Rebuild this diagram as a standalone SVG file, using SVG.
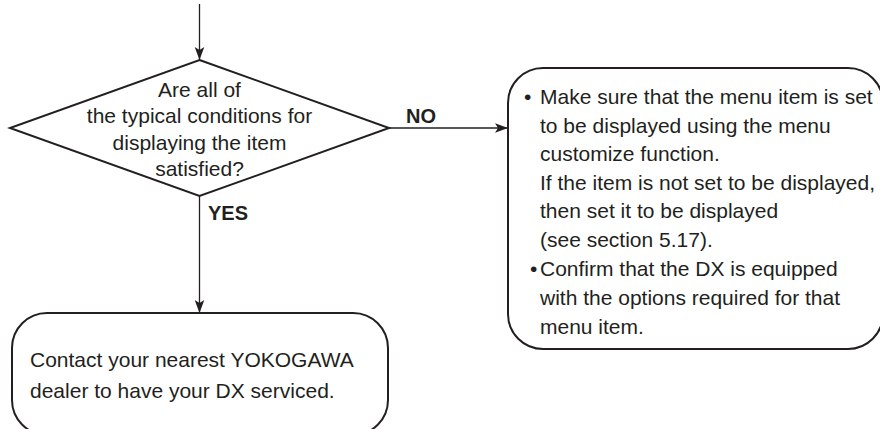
<svg xmlns="http://www.w3.org/2000/svg" width="880" height="429" viewBox="0 0 880 429">
<style>
text{font-family:"Liberation Sans",Arial,sans-serif;font-size:21px;fill:#231f20}
.b{font-weight:bold;font-size:20px}
.shape{fill:#fff;stroke:#231f20;stroke-width:2}
.conn{fill:none;stroke:#231f20;stroke-width:1.3}
</style>
<defs>
<marker id="ah" viewBox="-14 -6 16 12" refX="0" refY="0" markerWidth="16" markerHeight="12" markerUnits="userSpaceOnUse" orient="auto">
<path d="M0,0 L-13,-4.8 L-10,0 L-13,4.8 Z" fill="#231f20"/>
</marker>
</defs>
<rect width="880" height="429" fill="#fff"/>
<g id="connectors">
<line class="conn" x1="199.5" y1="4" x2="199.5" y2="60" marker-end="url(#ah)"/>
<line class="conn" x1="389" y1="128" x2="508" y2="128" marker-end="url(#ah)"/>
<line class="conn" x1="199.5" y1="196" x2="199.5" y2="313" marker-end="url(#ah)"/>
<text class="b" x="406" y="123">NO</text>
<text class="b" x="208" y="220">YES</text>
</g>
<g id="decision">
<polygon class="shape" points="199.5,60 389,128 199.5,196 10,128"/>
<text text-anchor="middle" x="199.5" y="97">Are all of</text>
<text text-anchor="middle" x="199.5" y="123">the typical conditions for</text>
<text text-anchor="middle" x="199.5" y="150">displaying the item</text>
<text text-anchor="middle" x="199.5" y="176">satisfied?</text>
</g>
<g id="check">
<rect class="shape" x="508" y="68" width="375" height="281" rx="35" ry="35"/>
<text x="524" y="104">•</text>
<text x="540" y="104">Make sure that the menu item is set</text>
<text x="540" y="133">to be displayed using the menu</text>
<text x="540" y="161">customize function.</text>
<text x="540" y="190">If the item is not set to be displayed,</text>
<text x="540" y="218">then set it to be displayed</text>
<text x="540" y="247">(see section 5.17).</text>
<text x="530" y="276">•</text>
<text x="540" y="276">Confirm that the DX is equipped</text>
<text x="540" y="305">with the options required for that</text>
<text x="540" y="334">menu item.</text>
</g>
<g id="contact">
<rect class="shape" x="12" y="313" width="376" height="122" rx="35" ry="35"/>
<text x="30" y="367">Contact your nearest YOKOGAWA</text>
<text x="30" y="398">dealer to have your DX serviced.</text>
</g>
</svg>
